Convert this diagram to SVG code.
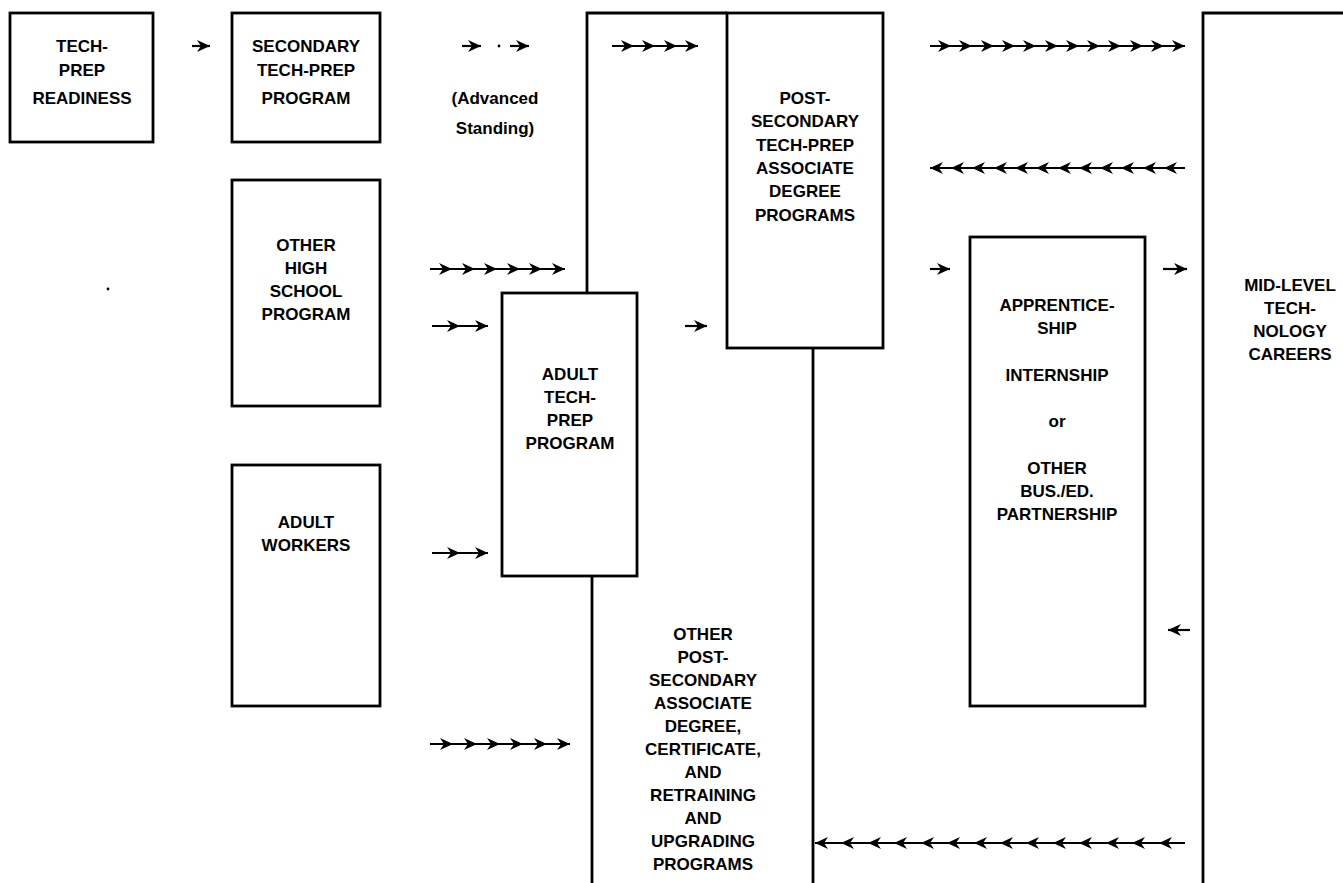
<svg xmlns="http://www.w3.org/2000/svg" width="1343" height="883" viewBox="0 0 1343 883">
<style>
.bx{fill:none;stroke:#000;stroke-width:2.8}
.ln{fill:none;stroke:#000;stroke-width:2.8}
.ar{fill:none;stroke:#000;stroke-width:2.2;marker-mid:url(#ah);marker-end:url(#ah)}
text{font-family:"Liberation Sans",Arial,sans-serif;font-weight:bold;font-size:17px;fill:#000;text-anchor:middle}
</style>
<defs>
<marker id="ah" markerUnits="userSpaceOnUse" markerWidth="16" markerHeight="13" refX="13" refY="6" orient="auto" overflow="visible">
<path d="M0,0 L13,6 L0,12 L4,6 z" fill="#000"/>
</marker>
</defs>
<rect width="1343" height="883" fill="#fff"/>

<g id="tech-prep-readiness">
<rect class="bx" x="10" y="13" width="143" height="129"/>
<text x="82" y="52">TECH-</text>
<text x="82" y="76">PREP</text>
<text x="82" y="104">READINESS</text>
</g>

<g id="secondary-tech-prep">
<rect class="bx" x="232" y="13" width="148" height="129"/>
<text x="306" y="52">SECONDARY</text>
<text x="306" y="76">TECH-PREP</text>
<text x="306" y="104">PROGRAM</text>
</g>

<g id="advanced-standing">
<text x="495" y="104">(Advanced</text>
<text x="495" y="134">Standing)</text>
</g>

<g id="post-secondary-tech-prep">
<polyline class="ln" points="587,293 587,13 727,13"/>
<rect class="bx" x="727" y="13" width="156" height="335"/>
<text x="805" y="104">POST-</text>
<text x="805" y="127">SECONDARY</text>
<text x="805" y="151">TECH-PREP</text>
<text x="805" y="174">ASSOCIATE</text>
<text x="805" y="197">DEGREE</text>
<text x="805" y="221">PROGRAMS</text>
</g>

<g id="other-high-school">
<rect class="bx" x="232" y="180" width="148" height="226"/>
<text x="306" y="251">OTHER</text>
<text x="306" y="274">HIGH</text>
<text x="306" y="297">SCHOOL</text>
<text x="306" y="320">PROGRAM</text>
</g>

<g id="adult-tech-prep">
<rect class="bx" x="502" y="293" width="135" height="283"/>
<text x="570" y="380">ADULT</text>
<text x="570" y="403">TECH-</text>
<text x="570" y="426">PREP</text>
<text x="570" y="449">PROGRAM</text>
</g>

<g id="adult-workers">
<rect class="bx" x="232" y="465" width="148" height="241"/>
<text x="306" y="528">ADULT</text>
<text x="306" y="551">WORKERS</text>
</g>

<g id="other-post-secondary">
<line class="ln" x1="592" y1="576" x2="592" y2="883"/>
<line class="ln" x1="813" y1="348" x2="813" y2="883"/>
<text x="703" y="640">OTHER</text>
<text x="703" y="663">POST-</text>
<text x="703" y="686">SECONDARY</text>
<text x="703" y="709">ASSOCIATE</text>
<text x="703" y="732">DEGREE,</text>
<text x="703" y="755">CERTIFICATE,</text>
<text x="703" y="778">AND</text>
<text x="703" y="801">RETRAINING</text>
<text x="703" y="824">AND</text>
<text x="703" y="847">UPGRADING</text>
<text x="703" y="870">PROGRAMS</text>
</g>

<g id="apprenticeship">
<rect class="bx" x="970" y="237" width="175" height="469"/>
<text x="1057" y="311">APPRENTICE-</text>
<text x="1057" y="334">SHIP</text>
<text x="1057" y="381">INTERNSHIP</text>
<text x="1057" y="427">or</text>
<text x="1057" y="474">OTHER</text>
<text x="1057" y="497">BUS./ED.</text>
<text x="1057" y="520">PARTNERSHIP</text>
</g>

<g id="mid-level-careers">
<polyline class="ln" points="1203,883 1203,13 1343,13"/>
<text x="1290" y="291">MID-LEVEL</text>
<text x="1290" y="314">TECH-</text>
<text x="1290" y="337">NOLOGY</text>
<text x="1290" y="360">CAREERS</text>
</g>

<g id="connectors">
<path class="ar" d="M192,46 H210"/>
<path class="ar" d="M462,46 H481"/>
<circle cx="499" cy="46" r="1.4" fill="#000"/>
<path class="ar" d="M510,46 H529"/>
<path class="ar" d="M612,46 H634 H655 H677 H698"/>
<path class="ar" d="M930,46 H951 H972 H994 H1015 H1036 H1058 H1079 H1100 H1121 H1143 H1164 H1185"/>
<path class="ar" d="M1185,168 H1164 H1143 H1121 H1100 H1079 H1058 H1036 H1015 H994 H972 H951 H930"/>
<path class="ar" d="M430,269 H452 H475 H497 H520 H542 H565"/>
<path class="ar" d="M432,326 H460 H488"/>
<path class="ar" d="M685,326 H707"/>
<path class="ar" d="M432,553 H460 H488"/>
<path class="ar" d="M430,744 H453 H477 H500 H523 H547 H570"/>
<path class="ar" d="M930,269 H950"/>
<path class="ar" d="M1163,269 H1187"/>
<path class="ar" d="M1190,630 H1168"/>
<path class="ar" d="M1185,843 H1159 H1132 H1106 H1079 H1053 H1026 H1000 H974 H947 H921 H894 H868 H841 H815"/>
</g>
<circle cx="108" cy="289" r="1.4" fill="#000"/>
</svg>
